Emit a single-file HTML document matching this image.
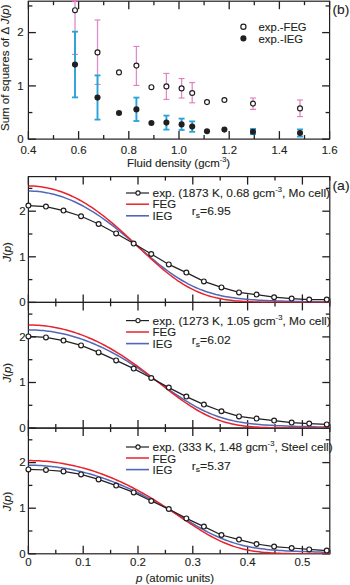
<!DOCTYPE html>
<html><head><meta charset="utf-8"><style>
html,body{margin:0;padding:0;background:#fff;}
svg{display:block;}
text{font-family:"Liberation Sans", sans-serif;fill:#231f20;stroke:#231f20;stroke-width:0.12px;}
</style></head><body>
<svg width="350" height="585" viewBox="0 0 350 585">
<rect width="350" height="585" fill="#fff"/>
<rect x="28.4" y="1.2" width="301.2" height="137.9" fill="none" stroke="#231f20" stroke-width="1.2"/>
<line x1="28.4" y1="139.1" x2="28.4" y2="131.1" stroke="#231f20" stroke-width="1.3" />
<line x1="28.4" y1="1.2" x2="28.4" y2="9.2" stroke="#231f20" stroke-width="1.3" />
<line x1="53.5" y1="139.1" x2="53.5" y2="135.1" stroke="#231f20" stroke-width="1.3" />
<line x1="53.5" y1="1.2" x2="53.5" y2="5.2" stroke="#231f20" stroke-width="1.3" />
<line x1="78.6" y1="139.1" x2="78.6" y2="131.1" stroke="#231f20" stroke-width="1.3" />
<line x1="78.6" y1="1.2" x2="78.6" y2="9.2" stroke="#231f20" stroke-width="1.3" />
<line x1="103.7" y1="139.1" x2="103.7" y2="135.1" stroke="#231f20" stroke-width="1.3" />
<line x1="103.7" y1="1.2" x2="103.7" y2="5.2" stroke="#231f20" stroke-width="1.3" />
<line x1="128.8" y1="139.1" x2="128.8" y2="131.1" stroke="#231f20" stroke-width="1.3" />
<line x1="128.8" y1="1.2" x2="128.8" y2="9.2" stroke="#231f20" stroke-width="1.3" />
<line x1="153.9" y1="139.1" x2="153.9" y2="135.1" stroke="#231f20" stroke-width="1.3" />
<line x1="153.9" y1="1.2" x2="153.9" y2="5.2" stroke="#231f20" stroke-width="1.3" />
<line x1="179" y1="139.1" x2="179" y2="131.1" stroke="#231f20" stroke-width="1.3" />
<line x1="179" y1="1.2" x2="179" y2="9.2" stroke="#231f20" stroke-width="1.3" />
<line x1="204.1" y1="139.1" x2="204.1" y2="135.1" stroke="#231f20" stroke-width="1.3" />
<line x1="204.1" y1="1.2" x2="204.1" y2="5.2" stroke="#231f20" stroke-width="1.3" />
<line x1="229.2" y1="139.1" x2="229.2" y2="131.1" stroke="#231f20" stroke-width="1.3" />
<line x1="229.2" y1="1.2" x2="229.2" y2="9.2" stroke="#231f20" stroke-width="1.3" />
<line x1="254.3" y1="139.1" x2="254.3" y2="135.1" stroke="#231f20" stroke-width="1.3" />
<line x1="254.3" y1="1.2" x2="254.3" y2="5.2" stroke="#231f20" stroke-width="1.3" />
<line x1="279.4" y1="139.1" x2="279.4" y2="131.1" stroke="#231f20" stroke-width="1.3" />
<line x1="279.4" y1="1.2" x2="279.4" y2="9.2" stroke="#231f20" stroke-width="1.3" />
<line x1="304.5" y1="139.1" x2="304.5" y2="135.1" stroke="#231f20" stroke-width="1.3" />
<line x1="304.5" y1="1.2" x2="304.5" y2="5.2" stroke="#231f20" stroke-width="1.3" />
<line x1="329.6" y1="139.1" x2="329.6" y2="131.1" stroke="#231f20" stroke-width="1.3" />
<line x1="329.6" y1="1.2" x2="329.6" y2="9.2" stroke="#231f20" stroke-width="1.3" />
<line x1="28.4" y1="139.2" x2="35.9" y2="139.2" stroke="#231f20" stroke-width="1.3" />
<line x1="329.6" y1="139.2" x2="322.1" y2="139.2" stroke="#231f20" stroke-width="1.3" />
<line x1="28.4" y1="112.55" x2="32.4" y2="112.55" stroke="#231f20" stroke-width="1.3" />
<line x1="329.6" y1="112.55" x2="325.6" y2="112.55" stroke="#231f20" stroke-width="1.3" />
<line x1="28.4" y1="85.9" x2="35.9" y2="85.9" stroke="#231f20" stroke-width="1.3" />
<line x1="329.6" y1="85.9" x2="322.1" y2="85.9" stroke="#231f20" stroke-width="1.3" />
<line x1="28.4" y1="59.25" x2="32.4" y2="59.25" stroke="#231f20" stroke-width="1.3" />
<line x1="329.6" y1="59.25" x2="325.6" y2="59.25" stroke="#231f20" stroke-width="1.3" />
<line x1="28.4" y1="32.6" x2="35.9" y2="32.6" stroke="#231f20" stroke-width="1.3" />
<line x1="329.6" y1="32.6" x2="322.1" y2="32.6" stroke="#231f20" stroke-width="1.3" />
<line x1="28.4" y1="5.95" x2="32.4" y2="5.95" stroke="#231f20" stroke-width="1.3" />
<line x1="329.6" y1="5.95" x2="325.6" y2="5.95" stroke="#231f20" stroke-width="1.3" />
<line x1="75" y1="0.8" x2="75" y2="54.4" stroke="#dc8cc8" stroke-width="1.3" />
<line x1="72" y1="0.8" x2="78" y2="0.8" stroke="#e07ab8" stroke-width="1.1" />
<line x1="72" y1="54.4" x2="78" y2="54.4" stroke="#e07ab8" stroke-width="1.1" />
<line x1="97.5" y1="20" x2="97.5" y2="84.4" stroke="#dc8cc8" stroke-width="1.3" />
<line x1="94.5" y1="20" x2="100.5" y2="20" stroke="#e07ab8" stroke-width="1.1" />
<line x1="94.5" y1="84.4" x2="100.5" y2="84.4" stroke="#e07ab8" stroke-width="1.1" />
<line x1="136.4" y1="46.4" x2="136.4" y2="85.4" stroke="#dc8cc8" stroke-width="1.3" />
<line x1="133.4" y1="46.4" x2="139.4" y2="46.4" stroke="#e07ab8" stroke-width="1.1" />
<line x1="133.4" y1="85.4" x2="139.4" y2="85.4" stroke="#e07ab8" stroke-width="1.1" />
<line x1="166.4" y1="73.4" x2="166.4" y2="99.4" stroke="#dc8cc8" stroke-width="1.3" />
<line x1="163.4" y1="73.4" x2="169.4" y2="73.4" stroke="#e07ab8" stroke-width="1.1" />
<line x1="163.4" y1="99.4" x2="169.4" y2="99.4" stroke="#e07ab8" stroke-width="1.1" />
<line x1="181.6" y1="78.6" x2="181.6" y2="98" stroke="#dc8cc8" stroke-width="1.3" />
<line x1="178.6" y1="78.6" x2="184.6" y2="78.6" stroke="#e07ab8" stroke-width="1.1" />
<line x1="178.6" y1="98" x2="184.6" y2="98" stroke="#e07ab8" stroke-width="1.1" />
<line x1="192.2" y1="82.6" x2="192.2" y2="102.8" stroke="#dc8cc8" stroke-width="1.3" />
<line x1="189.2" y1="82.6" x2="195.2" y2="82.6" stroke="#e07ab8" stroke-width="1.1" />
<line x1="189.2" y1="102.8" x2="195.2" y2="102.8" stroke="#e07ab8" stroke-width="1.1" />
<line x1="253" y1="98" x2="253" y2="109.4" stroke="#dc8cc8" stroke-width="1.3" />
<line x1="250" y1="98" x2="256" y2="98" stroke="#e07ab8" stroke-width="1.1" />
<line x1="250" y1="109.4" x2="256" y2="109.4" stroke="#e07ab8" stroke-width="1.1" />
<line x1="300" y1="100" x2="300" y2="116.6" stroke="#dc8cc8" stroke-width="1.3" />
<line x1="297" y1="100" x2="303" y2="100" stroke="#e07ab8" stroke-width="1.1" />
<line x1="297" y1="116.6" x2="303" y2="116.6" stroke="#e07ab8" stroke-width="1.1" />
<line x1="75" y1="31.7" x2="75" y2="97.4" stroke="#26a3d8" stroke-width="1.9" />
<line x1="72" y1="31.7" x2="78" y2="31.7" stroke="#26a3d8" stroke-width="1.8" />
<line x1="72" y1="97.4" x2="78" y2="97.4" stroke="#26a3d8" stroke-width="1.8" />
<line x1="97.5" y1="75.4" x2="97.5" y2="119.6" stroke="#26a3d8" stroke-width="1.9" />
<line x1="94.5" y1="75.4" x2="100.5" y2="75.4" stroke="#26a3d8" stroke-width="1.8" />
<line x1="94.5" y1="119.6" x2="100.5" y2="119.6" stroke="#26a3d8" stroke-width="1.8" />
<line x1="136.4" y1="97.6" x2="136.4" y2="121" stroke="#26a3d8" stroke-width="1.9" />
<line x1="133.4" y1="97.6" x2="139.4" y2="97.6" stroke="#26a3d8" stroke-width="1.8" />
<line x1="133.4" y1="121" x2="139.4" y2="121" stroke="#26a3d8" stroke-width="1.8" />
<line x1="166.4" y1="115.6" x2="166.4" y2="129.6" stroke="#26a3d8" stroke-width="1.9" />
<line x1="163.4" y1="115.6" x2="169.4" y2="115.6" stroke="#26a3d8" stroke-width="1.8" />
<line x1="163.4" y1="129.6" x2="169.4" y2="129.6" stroke="#26a3d8" stroke-width="1.8" />
<line x1="181.6" y1="118.6" x2="181.6" y2="130" stroke="#26a3d8" stroke-width="1.9" />
<line x1="178.6" y1="118.6" x2="184.6" y2="118.6" stroke="#26a3d8" stroke-width="1.8" />
<line x1="178.6" y1="130" x2="184.6" y2="130" stroke="#26a3d8" stroke-width="1.8" />
<line x1="192.2" y1="121.4" x2="192.2" y2="131.8" stroke="#26a3d8" stroke-width="1.9" />
<line x1="189.2" y1="121.4" x2="195.2" y2="121.4" stroke="#26a3d8" stroke-width="1.8" />
<line x1="189.2" y1="131.8" x2="195.2" y2="131.8" stroke="#26a3d8" stroke-width="1.8" />
<line x1="253" y1="129" x2="253" y2="134.2" stroke="#26a3d8" stroke-width="1.9" />
<line x1="250" y1="129" x2="256" y2="129" stroke="#26a3d8" stroke-width="1.8" />
<line x1="250" y1="134.2" x2="256" y2="134.2" stroke="#26a3d8" stroke-width="1.8" />
<line x1="300" y1="129.4" x2="300" y2="136.6" stroke="#26a3d8" stroke-width="1.9" />
<line x1="297" y1="129.4" x2="303" y2="129.4" stroke="#26a3d8" stroke-width="1.8" />
<line x1="297" y1="136.6" x2="303" y2="136.6" stroke="#26a3d8" stroke-width="1.8" />
<circle cx="75" cy="10.2" r="2.45" fill="#fff" stroke="#231f20" stroke-width="1.2"/>
<circle cx="75" cy="64.6" r="3.05" fill="#231f20"/>
<circle cx="97.5" cy="52.4" r="2.45" fill="#fff" stroke="#231f20" stroke-width="1.2"/>
<circle cx="97.5" cy="97.6" r="3.05" fill="#231f20"/>
<circle cx="119" cy="72.4" r="2.45" fill="#fff" stroke="#231f20" stroke-width="1.2"/>
<circle cx="119" cy="113" r="3.05" fill="#231f20"/>
<circle cx="136.4" cy="65.6" r="2.45" fill="#fff" stroke="#231f20" stroke-width="1.2"/>
<circle cx="136.4" cy="109.4" r="3.05" fill="#231f20"/>
<circle cx="151.4" cy="87.2" r="2.45" fill="#fff" stroke="#231f20" stroke-width="1.2"/>
<circle cx="151.4" cy="123" r="3.05" fill="#231f20"/>
<circle cx="166.4" cy="86.4" r="2.45" fill="#fff" stroke="#231f20" stroke-width="1.2"/>
<circle cx="166.4" cy="122.6" r="3.05" fill="#231f20"/>
<circle cx="181.6" cy="88.4" r="2.45" fill="#fff" stroke="#231f20" stroke-width="1.2"/>
<circle cx="181.6" cy="124.4" r="3.05" fill="#231f20"/>
<circle cx="192.2" cy="93" r="2.45" fill="#fff" stroke="#231f20" stroke-width="1.2"/>
<circle cx="192.2" cy="126.6" r="3.05" fill="#231f20"/>
<circle cx="207" cy="102.1" r="2.45" fill="#fff" stroke="#231f20" stroke-width="1.2"/>
<circle cx="207" cy="131.2" r="3.05" fill="#231f20"/>
<circle cx="224.4" cy="100" r="2.45" fill="#fff" stroke="#231f20" stroke-width="1.2"/>
<circle cx="224.4" cy="129.6" r="3.05" fill="#231f20"/>
<circle cx="253" cy="103.6" r="2.45" fill="#fff" stroke="#231f20" stroke-width="1.2"/>
<circle cx="253" cy="131.8" r="3.05" fill="#231f20"/>
<circle cx="300" cy="108.4" r="2.45" fill="#fff" stroke="#231f20" stroke-width="1.2"/>
<circle cx="300" cy="133" r="3.05" fill="#231f20"/>
<line x1="72" y1="0.8" x2="78" y2="0.8" stroke="#e07ab8" stroke-width="1.3" />
<text transform="translate(23.6,143) scale(1.06,1)" font-size="10.8" text-anchor="end" >0</text>
<text transform="translate(23.6,89.7) scale(1.06,1)" font-size="10.8" text-anchor="end" >1</text>
<text transform="translate(23.6,36.4) scale(1.06,1)" font-size="10.8" text-anchor="end" >2</text>
<text transform="translate(28.4,153.9) scale(1.06,1)" font-size="10.8" text-anchor="middle" >0.4</text>
<text transform="translate(78.6,153.9) scale(1.06,1)" font-size="10.8" text-anchor="middle" >0.6</text>
<text transform="translate(128.8,153.9) scale(1.06,1)" font-size="10.8" text-anchor="middle" >0.8</text>
<text transform="translate(179,153.9) scale(1.06,1)" font-size="10.8" text-anchor="middle" >1.0</text>
<text transform="translate(229.2,153.9) scale(1.06,1)" font-size="10.8" text-anchor="middle" >1.2</text>
<text transform="translate(279.4,153.9) scale(1.06,1)" font-size="10.8" text-anchor="middle" >1.4</text>
<text transform="translate(329.6,153.9) scale(1.06,1)" font-size="10.8" text-anchor="middle" >1.6</text>
<text transform="translate(127,167) scale(1.06,1)" font-size="10.8" >Fluid density (gcm<tspan dy="-5.2" font-size="7">-3</tspan><tspan dy="5.2">)</tspan></text>
<text transform="translate(8.7,131.0) rotate(-90)" font-size="11.5" textLength="126.5" lengthAdjust="spacingAndGlyphs">Sum of squares of Δ <tspan font-style="italic">J</tspan>(<tspan font-style="italic">p</tspan>)</text>
<text transform="translate(332.4,13.9) scale(1.02,1)" font-size="13.5" text-anchor="start" >(b)</text>
<circle cx="243.4" cy="26.7" r="2.6" fill="#fff" stroke="#231f20" stroke-width="1.2"/>
<circle cx="243.4" cy="38.4" r="3.05" fill="#231f20"/>
<text transform="translate(258.6,31.4) scale(1.06,1)" font-size="10.8" text-anchor="start" textLength="45.28" lengthAdjust="spacingAndGlyphs" >exp.-FEG</text>
<text transform="translate(258.6,43.3) scale(1.06,1)" font-size="10.8" text-anchor="start" textLength="41.98" lengthAdjust="spacingAndGlyphs" >exp.-IEG</text>
<rect x="28.4" y="176.6" width="301.4" height="125.8" fill="none" stroke="#231f20" stroke-width="1.2"/>
<line x1="28.4" y1="176.6" x2="28.4" y2="184.6" stroke="#231f20" stroke-width="1.3" />
<line x1="28.4" y1="302.4" x2="28.4" y2="294.4" stroke="#231f20" stroke-width="1.3" />
<line x1="28.4" y1="302.4" x2="28.4" y2="310.4" stroke="#231f20" stroke-width="1.3" />
<line x1="55.8" y1="176.6" x2="55.8" y2="180.6" stroke="#231f20" stroke-width="1.3" />
<line x1="55.8" y1="302.4" x2="55.8" y2="298.4" stroke="#231f20" stroke-width="1.3" />
<line x1="55.8" y1="302.4" x2="55.8" y2="306.4" stroke="#231f20" stroke-width="1.3" />
<line x1="83.2" y1="176.6" x2="83.2" y2="184.6" stroke="#231f20" stroke-width="1.3" />
<line x1="83.2" y1="302.4" x2="83.2" y2="294.4" stroke="#231f20" stroke-width="1.3" />
<line x1="83.2" y1="302.4" x2="83.2" y2="310.4" stroke="#231f20" stroke-width="1.3" />
<line x1="110.6" y1="176.6" x2="110.6" y2="180.6" stroke="#231f20" stroke-width="1.3" />
<line x1="110.6" y1="302.4" x2="110.6" y2="298.4" stroke="#231f20" stroke-width="1.3" />
<line x1="110.6" y1="302.4" x2="110.6" y2="306.4" stroke="#231f20" stroke-width="1.3" />
<line x1="138" y1="176.6" x2="138" y2="184.6" stroke="#231f20" stroke-width="1.3" />
<line x1="138" y1="302.4" x2="138" y2="294.4" stroke="#231f20" stroke-width="1.3" />
<line x1="138" y1="302.4" x2="138" y2="310.4" stroke="#231f20" stroke-width="1.3" />
<line x1="165.4" y1="176.6" x2="165.4" y2="180.6" stroke="#231f20" stroke-width="1.3" />
<line x1="165.4" y1="302.4" x2="165.4" y2="298.4" stroke="#231f20" stroke-width="1.3" />
<line x1="165.4" y1="302.4" x2="165.4" y2="306.4" stroke="#231f20" stroke-width="1.3" />
<line x1="192.8" y1="176.6" x2="192.8" y2="184.6" stroke="#231f20" stroke-width="1.3" />
<line x1="192.8" y1="302.4" x2="192.8" y2="294.4" stroke="#231f20" stroke-width="1.3" />
<line x1="192.8" y1="302.4" x2="192.8" y2="310.4" stroke="#231f20" stroke-width="1.3" />
<line x1="220.2" y1="176.6" x2="220.2" y2="180.6" stroke="#231f20" stroke-width="1.3" />
<line x1="220.2" y1="302.4" x2="220.2" y2="298.4" stroke="#231f20" stroke-width="1.3" />
<line x1="220.2" y1="302.4" x2="220.2" y2="306.4" stroke="#231f20" stroke-width="1.3" />
<line x1="247.6" y1="176.6" x2="247.6" y2="184.6" stroke="#231f20" stroke-width="1.3" />
<line x1="247.6" y1="302.4" x2="247.6" y2="294.4" stroke="#231f20" stroke-width="1.3" />
<line x1="247.6" y1="302.4" x2="247.6" y2="310.4" stroke="#231f20" stroke-width="1.3" />
<line x1="275" y1="176.6" x2="275" y2="180.6" stroke="#231f20" stroke-width="1.3" />
<line x1="275" y1="302.4" x2="275" y2="298.4" stroke="#231f20" stroke-width="1.3" />
<line x1="275" y1="302.4" x2="275" y2="306.4" stroke="#231f20" stroke-width="1.3" />
<line x1="302.4" y1="176.6" x2="302.4" y2="184.6" stroke="#231f20" stroke-width="1.3" />
<line x1="302.4" y1="302.4" x2="302.4" y2="294.4" stroke="#231f20" stroke-width="1.3" />
<line x1="302.4" y1="302.4" x2="302.4" y2="310.4" stroke="#231f20" stroke-width="1.3" />
<line x1="329.8" y1="176.6" x2="329.8" y2="180.6" stroke="#231f20" stroke-width="1.3" />
<line x1="329.8" y1="302.4" x2="329.8" y2="298.4" stroke="#231f20" stroke-width="1.3" />
<line x1="329.8" y1="302.4" x2="329.8" y2="306.4" stroke="#231f20" stroke-width="1.3" />
<line x1="28.4" y1="302.4" x2="35.9" y2="302.4" stroke="#231f20" stroke-width="1.3" />
<line x1="329.8" y1="302.4" x2="322.3" y2="302.4" stroke="#231f20" stroke-width="1.3" />
<line x1="28.4" y1="279.6" x2="32.4" y2="279.6" stroke="#231f20" stroke-width="1.3" />
<line x1="329.8" y1="279.6" x2="325.8" y2="279.6" stroke="#231f20" stroke-width="1.3" />
<line x1="28.4" y1="256.8" x2="35.9" y2="256.8" stroke="#231f20" stroke-width="1.3" />
<line x1="329.8" y1="256.8" x2="322.3" y2="256.8" stroke="#231f20" stroke-width="1.3" />
<line x1="28.4" y1="234" x2="32.4" y2="234" stroke="#231f20" stroke-width="1.3" />
<line x1="329.8" y1="234" x2="325.8" y2="234" stroke="#231f20" stroke-width="1.3" />
<line x1="28.4" y1="211.2" x2="35.9" y2="211.2" stroke="#231f20" stroke-width="1.3" />
<line x1="329.8" y1="211.2" x2="322.3" y2="211.2" stroke="#231f20" stroke-width="1.3" />
<line x1="28.4" y1="188.4" x2="32.4" y2="188.4" stroke="#231f20" stroke-width="1.3" />
<line x1="329.8" y1="188.4" x2="325.8" y2="188.4" stroke="#231f20" stroke-width="1.3" />
<rect x="28.4" y="302.4" width="301.4" height="125.7" fill="none" stroke="#231f20" stroke-width="1.2"/>
<line x1="28.4" y1="428.1" x2="28.4" y2="420.1" stroke="#231f20" stroke-width="1.3" />
<line x1="28.4" y1="428.1" x2="28.4" y2="436.1" stroke="#231f20" stroke-width="1.3" />
<line x1="55.8" y1="428.1" x2="55.8" y2="424.1" stroke="#231f20" stroke-width="1.3" />
<line x1="55.8" y1="428.1" x2="55.8" y2="432.1" stroke="#231f20" stroke-width="1.3" />
<line x1="83.2" y1="428.1" x2="83.2" y2="420.1" stroke="#231f20" stroke-width="1.3" />
<line x1="83.2" y1="428.1" x2="83.2" y2="436.1" stroke="#231f20" stroke-width="1.3" />
<line x1="110.6" y1="428.1" x2="110.6" y2="424.1" stroke="#231f20" stroke-width="1.3" />
<line x1="110.6" y1="428.1" x2="110.6" y2="432.1" stroke="#231f20" stroke-width="1.3" />
<line x1="138" y1="428.1" x2="138" y2="420.1" stroke="#231f20" stroke-width="1.3" />
<line x1="138" y1="428.1" x2="138" y2="436.1" stroke="#231f20" stroke-width="1.3" />
<line x1="165.4" y1="428.1" x2="165.4" y2="424.1" stroke="#231f20" stroke-width="1.3" />
<line x1="165.4" y1="428.1" x2="165.4" y2="432.1" stroke="#231f20" stroke-width="1.3" />
<line x1="192.8" y1="428.1" x2="192.8" y2="420.1" stroke="#231f20" stroke-width="1.3" />
<line x1="192.8" y1="428.1" x2="192.8" y2="436.1" stroke="#231f20" stroke-width="1.3" />
<line x1="220.2" y1="428.1" x2="220.2" y2="424.1" stroke="#231f20" stroke-width="1.3" />
<line x1="220.2" y1="428.1" x2="220.2" y2="432.1" stroke="#231f20" stroke-width="1.3" />
<line x1="247.6" y1="428.1" x2="247.6" y2="420.1" stroke="#231f20" stroke-width="1.3" />
<line x1="247.6" y1="428.1" x2="247.6" y2="436.1" stroke="#231f20" stroke-width="1.3" />
<line x1="275" y1="428.1" x2="275" y2="424.1" stroke="#231f20" stroke-width="1.3" />
<line x1="275" y1="428.1" x2="275" y2="432.1" stroke="#231f20" stroke-width="1.3" />
<line x1="302.4" y1="428.1" x2="302.4" y2="420.1" stroke="#231f20" stroke-width="1.3" />
<line x1="302.4" y1="428.1" x2="302.4" y2="436.1" stroke="#231f20" stroke-width="1.3" />
<line x1="329.8" y1="428.1" x2="329.8" y2="424.1" stroke="#231f20" stroke-width="1.3" />
<line x1="329.8" y1="428.1" x2="329.8" y2="432.1" stroke="#231f20" stroke-width="1.3" />
<line x1="28.4" y1="428.1" x2="35.9" y2="428.1" stroke="#231f20" stroke-width="1.3" />
<line x1="329.8" y1="428.1" x2="322.3" y2="428.1" stroke="#231f20" stroke-width="1.3" />
<line x1="28.4" y1="405.3" x2="32.4" y2="405.3" stroke="#231f20" stroke-width="1.3" />
<line x1="329.8" y1="405.3" x2="325.8" y2="405.3" stroke="#231f20" stroke-width="1.3" />
<line x1="28.4" y1="382.5" x2="35.9" y2="382.5" stroke="#231f20" stroke-width="1.3" />
<line x1="329.8" y1="382.5" x2="322.3" y2="382.5" stroke="#231f20" stroke-width="1.3" />
<line x1="28.4" y1="359.7" x2="32.4" y2="359.7" stroke="#231f20" stroke-width="1.3" />
<line x1="329.8" y1="359.7" x2="325.8" y2="359.7" stroke="#231f20" stroke-width="1.3" />
<line x1="28.4" y1="336.9" x2="35.9" y2="336.9" stroke="#231f20" stroke-width="1.3" />
<line x1="329.8" y1="336.9" x2="322.3" y2="336.9" stroke="#231f20" stroke-width="1.3" />
<line x1="28.4" y1="314.1" x2="32.4" y2="314.1" stroke="#231f20" stroke-width="1.3" />
<line x1="329.8" y1="314.1" x2="325.8" y2="314.1" stroke="#231f20" stroke-width="1.3" />
<rect x="28.4" y="428.1" width="301.4" height="125.7" fill="none" stroke="#231f20" stroke-width="1.2"/>
<line x1="28.4" y1="553.8" x2="28.4" y2="545.8" stroke="#231f20" stroke-width="1.3" />
<line x1="55.8" y1="553.8" x2="55.8" y2="549.8" stroke="#231f20" stroke-width="1.3" />
<line x1="83.2" y1="553.8" x2="83.2" y2="545.8" stroke="#231f20" stroke-width="1.3" />
<line x1="110.6" y1="553.8" x2="110.6" y2="549.8" stroke="#231f20" stroke-width="1.3" />
<line x1="138" y1="553.8" x2="138" y2="545.8" stroke="#231f20" stroke-width="1.3" />
<line x1="165.4" y1="553.8" x2="165.4" y2="549.8" stroke="#231f20" stroke-width="1.3" />
<line x1="192.8" y1="553.8" x2="192.8" y2="545.8" stroke="#231f20" stroke-width="1.3" />
<line x1="220.2" y1="553.8" x2="220.2" y2="549.8" stroke="#231f20" stroke-width="1.3" />
<line x1="247.6" y1="553.8" x2="247.6" y2="545.8" stroke="#231f20" stroke-width="1.3" />
<line x1="275" y1="553.8" x2="275" y2="549.8" stroke="#231f20" stroke-width="1.3" />
<line x1="302.4" y1="553.8" x2="302.4" y2="545.8" stroke="#231f20" stroke-width="1.3" />
<line x1="329.8" y1="553.8" x2="329.8" y2="549.8" stroke="#231f20" stroke-width="1.3" />
<line x1="28.4" y1="553.8" x2="35.9" y2="553.8" stroke="#231f20" stroke-width="1.3" />
<line x1="329.8" y1="553.8" x2="322.3" y2="553.8" stroke="#231f20" stroke-width="1.3" />
<line x1="28.4" y1="531" x2="32.4" y2="531" stroke="#231f20" stroke-width="1.3" />
<line x1="329.8" y1="531" x2="325.8" y2="531" stroke="#231f20" stroke-width="1.3" />
<line x1="28.4" y1="508.2" x2="35.9" y2="508.2" stroke="#231f20" stroke-width="1.3" />
<line x1="329.8" y1="508.2" x2="322.3" y2="508.2" stroke="#231f20" stroke-width="1.3" />
<line x1="28.4" y1="485.4" x2="32.4" y2="485.4" stroke="#231f20" stroke-width="1.3" />
<line x1="329.8" y1="485.4" x2="325.8" y2="485.4" stroke="#231f20" stroke-width="1.3" />
<line x1="28.4" y1="462.6" x2="35.9" y2="462.6" stroke="#231f20" stroke-width="1.3" />
<line x1="329.8" y1="462.6" x2="322.3" y2="462.6" stroke="#231f20" stroke-width="1.3" />
<line x1="28.4" y1="439.8" x2="32.4" y2="439.8" stroke="#231f20" stroke-width="1.3" />
<line x1="329.8" y1="439.8" x2="325.8" y2="439.8" stroke="#231f20" stroke-width="1.3" />
<clipPath id="c0"><rect x="28.4" y="176.6" width="301.4" height="125.8"/></clipPath>
<path d="M28.4,191.04 L30.93,191.07 L33.47,191.17 L36,191.33 L38.54,191.56 L41.07,191.86 L43.61,192.21 L46.14,192.64 L48.68,193.13 L51.21,193.68 L53.75,194.3 L56.28,194.98 L58.82,195.72 L61.35,196.53 L63.88,197.41 L66.42,198.34 L68.95,199.34 L71.49,200.4 L74.02,201.53 L76.56,202.71 L79.09,203.96 L81.63,205.26 L84.16,206.63 L86.7,208.05 L89.23,209.53 L91.77,211.07 L94.3,212.66 L96.83,214.3 L99.37,216 L101.9,217.75 L104.44,219.55 L106.97,221.4 L109.51,223.29 L112.04,225.22 L114.58,227.19 L117.11,229.2 L119.65,231.24 L122.18,233.31 L124.72,235.41 L127.25,237.54 L129.78,239.68 L132.32,241.84 L134.85,244.01 L137.39,246.18 L139.92,248.36 L142.46,250.53 L144.99,252.69 L147.53,254.85 L150.06,256.98 L152.6,259.09 L155.13,261.17 L157.67,263.22 L160.2,265.23 L162.73,267.2 L165.27,269.12 L167.8,271 L170.34,272.81 L172.87,274.57 L175.41,276.28 L177.94,277.91 L180.48,279.49 L183.01,280.99 L185.55,282.43 L188.08,283.8 L190.62,285.1 L193.15,286.33 L195.68,287.49 L198.22,288.59 L200.75,289.61 L203.29,290.57 L205.82,291.47 L208.36,292.31 L210.89,293.08 L213.43,293.8 L215.96,294.47 L218.5,295.08 L221.03,295.65 L223.57,296.17 L226.1,296.64 L228.63,297.08 L231.17,297.48 L233.7,297.85 L236.24,298.18 L238.77,298.49 L241.31,298.77 L243.84,299.02 L246.38,299.26 L248.91,299.47 L251.45,299.66 L253.98,299.84 L256.52,300.01 L259.05,300.16 L261.58,300.3 L264.12,300.43 L266.65,300.55 L269.19,300.66 L271.72,300.76 L274.26,300.85 L276.79,300.94 L279.33,301.03 L281.86,301.11 L284.4,301.18 L286.93,301.25 L289.47,301.31 L292,301.38 L294.53,301.43 L297.07,301.49 L299.6,301.54 L302.14,301.59 L304.67,301.64 L307.21,301.68 L309.74,301.72 L312.28,301.76 L314.81,301.8 L317.35,301.84 L319.88,301.87 L322.42,301.9 L324.95,301.93 L327.48,301.96 L330.02,301.99" fill="none" stroke="#5068b6" stroke-width="1.5" clip-path="url(#c0)"/>
<path d="M28.4,185.94 L30.93,185.97 L33.47,186.08 L36,186.25 L38.54,186.5 L41.07,186.81 L43.61,187.19 L46.14,187.64 L48.68,188.16 L51.21,188.75 L53.75,189.41 L56.28,190.14 L58.82,190.94 L61.35,191.8 L63.88,192.74 L66.42,193.74 L68.95,194.81 L71.49,195.95 L74.02,197.16 L76.56,198.44 L79.09,199.78 L81.63,201.19 L84.16,202.66 L86.7,204.2 L89.23,205.81 L91.77,207.47 L94.3,209.2 L96.83,210.99 L99.37,212.84 L101.9,214.75 L104.44,216.71 L106.97,218.73 L109.51,220.8 L112.04,222.92 L114.58,225.08 L117.11,227.29 L119.65,229.53 L122.18,231.81 L124.72,234.12 L127.25,236.46 L129.78,238.82 L132.32,241.2 L134.85,243.6 L137.39,246 L139.92,248.4 L142.46,250.79 L144.99,253.18 L147.53,255.55 L150.06,257.9 L152.6,260.23 L155.13,262.52 L157.67,264.77 L160.2,266.97 L162.73,269.13 L165.27,271.23 L167.8,273.27 L170.34,275.25 L172.87,277.16 L175.41,278.99 L177.94,280.76 L180.48,282.44 L183.01,284.05 L185.55,285.57 L188.08,287.02 L190.62,288.38 L193.15,289.66 L195.68,290.86 L198.22,291.98 L200.75,293.02 L203.29,293.98 L205.82,294.87 L208.36,295.69 L210.89,296.44 L213.43,297.12 L215.96,297.74 L218.5,298.3 L221.03,298.81 L223.57,299.27 L226.1,299.67 L228.63,300.04 L231.17,300.36 L233.7,300.64 L236.24,300.89 L238.77,301.11 L241.31,301.3 L243.84,301.47 L246.38,301.62 L248.91,301.74 L251.45,301.85 L253.98,301.94 L256.52,302.02 L259.05,302.08 L261.58,302.14 L264.12,302.18 L266.65,302.22 L269.19,302.26 L271.72,302.28 L274.26,302.31 L276.79,302.32 L279.33,302.34 L281.86,302.35 L284.4,302.36 L286.93,302.37 L289.47,302.38 L292,302.38 L294.53,302.39 L297.07,302.39 L299.6,302.39 L302.14,302.39 L304.67,302.39 L307.21,302.4 L309.74,302.4 L312.28,302.4 L314.81,302.4 L317.35,302.4 L319.88,302.4 L322.42,302.4 L324.95,302.4 L327.48,302.4 L330.02,302.4" fill="none" stroke="#e8232c" stroke-width="1.5" clip-path="url(#c0)"/>
<polyline points="28.4,205.6 45.95,206.6 63.5,210.6 81.05,216.2 98.6,224 116.15,233.4 133.7,243.6 151.25,254 168.8,264.4 186.35,272.6 203.9,281.4 221.45,287.4 239,292.4 256.55,294.6 274.1,297.2 291.65,298.6 309.2,299.6 326.75,299.6" fill="none" stroke="#231f20" stroke-width="1.2"/>
<circle cx="28.4" cy="205.6" r="2.4" fill="#fff" stroke="#231f20" stroke-width="1.2"/>
<circle cx="45.95" cy="206.6" r="2.4" fill="#fff" stroke="#231f20" stroke-width="1.2"/>
<circle cx="63.5" cy="210.6" r="2.4" fill="#fff" stroke="#231f20" stroke-width="1.2"/>
<circle cx="81.05" cy="216.2" r="2.4" fill="#fff" stroke="#231f20" stroke-width="1.2"/>
<circle cx="98.6" cy="224" r="2.4" fill="#fff" stroke="#231f20" stroke-width="1.2"/>
<circle cx="116.15" cy="233.4" r="2.4" fill="#fff" stroke="#231f20" stroke-width="1.2"/>
<circle cx="133.7" cy="243.6" r="2.4" fill="#fff" stroke="#231f20" stroke-width="1.2"/>
<circle cx="151.25" cy="254" r="2.4" fill="#fff" stroke="#231f20" stroke-width="1.2"/>
<circle cx="168.8" cy="264.4" r="2.4" fill="#fff" stroke="#231f20" stroke-width="1.2"/>
<circle cx="186.35" cy="272.6" r="2.4" fill="#fff" stroke="#231f20" stroke-width="1.2"/>
<circle cx="203.9" cy="281.4" r="2.4" fill="#fff" stroke="#231f20" stroke-width="1.2"/>
<circle cx="221.45" cy="287.4" r="2.4" fill="#fff" stroke="#231f20" stroke-width="1.2"/>
<circle cx="239" cy="292.4" r="2.4" fill="#fff" stroke="#231f20" stroke-width="1.2"/>
<circle cx="256.55" cy="294.6" r="2.4" fill="#fff" stroke="#231f20" stroke-width="1.2"/>
<circle cx="274.1" cy="297.2" r="2.4" fill="#fff" stroke="#231f20" stroke-width="1.2"/>
<circle cx="291.65" cy="298.6" r="2.4" fill="#fff" stroke="#231f20" stroke-width="1.2"/>
<circle cx="309.2" cy="299.6" r="2.4" fill="#fff" stroke="#231f20" stroke-width="1.2"/>
<circle cx="326.75" cy="299.6" r="2.4" fill="#fff" stroke="#231f20" stroke-width="1.2"/>
<line x1="126" y1="193" x2="149" y2="193" stroke="#231f20" stroke-width="1.2" />
<circle cx="138" cy="193" r="2.1" fill="#fff" stroke="#231f20" stroke-width="1.1"/>
<line x1="126" y1="204.2" x2="149" y2="204.2" stroke="#e8232c" stroke-width="1.5" />
<line x1="126" y1="215.8" x2="149" y2="215.8" stroke="#5068b6" stroke-width="1.6" />
<text transform="translate(152.6,196.8) scale(1.099,1)" font-size="10.8" >exp. (1873 K, 0.68 gcm<tspan dy="-5.2" font-size="7">-3</tspan><tspan dy="5.2">, Mo cell)</tspan></text>
<text transform="translate(152.6,208.3) scale(1.06,1)" font-size="10.8" text-anchor="start" >FEG</text>
<text transform="translate(152.6,220.2) scale(1.06,1)" font-size="10.8" text-anchor="start" >IEG</text>
<text transform="translate(191.8,215) scale(1.06,1)" font-size="11.4" >r<tspan dy="2.6" font-size="8">s</tspan><tspan dy="-2.6">=6.95</tspan></text>
<text transform="translate(10.8,261.8) rotate(-90) scale(1.06,1)" font-size="10.8"><tspan font-style="italic">J</tspan>(<tspan font-style="italic">p</tspan>)</text>
<text transform="translate(25.6,306.2) scale(1.06,1)" font-size="10.8" text-anchor="end" >0</text>
<text transform="translate(25.6,260.6) scale(1.06,1)" font-size="10.8" text-anchor="end" >1</text>
<text transform="translate(25.6,215) scale(1.06,1)" font-size="10.8" text-anchor="end" >2</text>
<clipPath id="c1"><rect x="28.4" y="302.4" width="301.4" height="125.7"/></clipPath>
<path d="M28.4,329.86 L30.93,329.88 L33.47,329.95 L36,330.05 L38.54,330.2 L41.07,330.39 L43.61,330.62 L46.14,330.89 L48.68,331.21 L51.21,331.57 L53.75,331.97 L56.28,332.41 L58.82,332.89 L61.35,333.41 L63.88,333.98 L66.42,334.59 L68.95,335.24 L71.49,335.93 L74.02,336.66 L76.56,337.43 L79.09,338.25 L81.63,339.1 L84.16,340 L86.7,340.93 L89.23,341.91 L91.77,342.93 L94.3,343.99 L96.83,345.08 L99.37,346.22 L101.9,347.4 L104.44,348.61 L106.97,349.86 L109.51,351.16 L112.04,352.49 L114.58,353.85 L117.11,355.26 L119.65,356.7 L122.18,358.17 L124.72,359.68 L127.25,361.22 L129.78,362.79 L132.32,364.39 L134.85,366.03 L137.39,367.68 L139.92,369.37 L142.46,371.08 L144.99,372.8 L147.53,374.55 L150.06,376.31 L152.6,378.09 L155.13,379.87 L157.67,381.66 L160.2,383.45 L162.73,385.24 L165.27,387.03 L167.8,388.8 L170.34,390.56 L172.87,392.31 L175.41,394.03 L177.94,395.73 L180.48,397.4 L183.01,399.03 L185.55,400.63 L188.08,402.19 L190.62,403.7 L193.15,405.16 L195.68,406.57 L198.22,407.93 L200.75,409.23 L203.29,410.48 L205.82,411.67 L208.36,412.79 L210.89,413.86 L213.43,414.87 L215.96,415.82 L218.5,416.71 L221.03,417.54 L223.57,418.31 L226.1,419.03 L228.63,419.7 L231.17,420.32 L233.7,420.88 L236.24,421.41 L238.77,421.88 L241.31,422.32 L243.84,422.72 L246.38,423.09 L248.91,423.42 L251.45,423.73 L253.98,424 L256.52,424.25 L259.05,424.48 L261.58,424.69 L264.12,424.88 L266.65,425.06 L269.19,425.22 L271.72,425.37 L274.26,425.5 L276.79,425.63 L279.33,425.74 L281.86,425.85 L284.4,425.95 L286.93,426.05 L289.47,426.14 L292,426.22 L294.53,426.3 L297.07,426.38 L299.6,426.45 L302.14,426.52 L304.67,426.58 L307.21,426.65 L309.74,426.71 L312.28,426.77 L314.81,426.82 L317.35,426.88 L319.88,426.93 L322.42,426.98 L324.95,427.02 L327.48,427.07 L330.02,427.12" fill="none" stroke="#5068b6" stroke-width="1.5" clip-path="url(#c1)"/>
<path d="M28.4,324.94 L30.93,324.96 L33.47,325.03 L36,325.14 L38.54,325.3 L41.07,325.5 L43.61,325.75 L46.14,326.04 L48.68,326.38 L51.21,326.77 L53.75,327.2 L56.28,327.67 L58.82,328.19 L61.35,328.75 L63.88,329.36 L66.42,330.02 L68.95,330.72 L71.49,331.46 L74.02,332.25 L76.56,333.09 L79.09,333.97 L81.63,334.9 L84.16,335.87 L86.7,336.88 L89.23,337.94 L91.77,339.05 L94.3,340.2 L96.83,341.39 L99.37,342.63 L101.9,343.91 L104.44,345.24 L106.97,346.61 L109.51,348.02 L112.04,349.48 L114.58,350.98 L117.11,352.52 L119.65,354.1 L122.18,355.72 L124.72,357.38 L127.25,359.08 L129.78,360.82 L132.32,362.59 L134.85,364.39 L137.39,366.23 L139.92,368.09 L142.46,369.98 L144.99,371.9 L147.53,373.83 L150.06,375.79 L152.6,377.76 L155.13,379.74 L157.67,381.73 L160.2,383.72 L162.73,385.71 L165.27,387.69 L167.8,389.66 L170.34,391.62 L172.87,393.55 L175.41,395.46 L177.94,397.34 L180.48,399.19 L183.01,400.99 L185.55,402.75 L188.08,404.46 L190.62,406.12 L193.15,407.72 L195.68,409.26 L198.22,410.73 L200.75,412.14 L203.29,413.48 L205.82,414.76 L208.36,415.96 L210.89,417.09 L213.43,418.15 L215.96,419.14 L218.5,420.06 L221.03,420.91 L223.57,421.7 L226.1,422.42 L228.63,423.08 L231.17,423.68 L233.7,424.22 L236.24,424.71 L238.77,425.15 L241.31,425.54 L243.84,425.89 L246.38,426.2 L248.91,426.48 L251.45,426.72 L253.98,426.92 L256.52,427.11 L259.05,427.26 L261.58,427.4 L264.12,427.52 L266.65,427.62 L269.19,427.7 L271.72,427.77 L274.26,427.83 L276.79,427.88 L279.33,427.92 L281.86,427.96 L284.4,427.98 L286.93,428.01 L289.47,428.03 L292,428.04 L294.53,428.05 L297.07,428.06 L299.6,428.07 L302.14,428.08 L304.67,428.08 L307.21,428.09 L309.74,428.09 L312.28,428.09 L314.81,428.09 L317.35,428.1 L319.88,428.1 L322.42,428.1 L324.95,428.1 L327.48,428.1 L330.02,428.1" fill="none" stroke="#e8232c" stroke-width="1.5" clip-path="url(#c1)"/>
<polyline points="28.4,336.4 45.95,337.4 63.5,340.6 81.05,345.4 98.6,352.4 116.15,360.4 133.7,368.6 151.25,378 168.8,387.6 186.35,396.6 203.9,404.6 221.45,411.2 239,416.4 256.55,418.6 274.1,420.6 291.65,422.6 309.2,423.6 326.75,424.4" fill="none" stroke="#231f20" stroke-width="1.2"/>
<circle cx="28.4" cy="336.4" r="2.4" fill="#fff" stroke="#231f20" stroke-width="1.2"/>
<circle cx="45.95" cy="337.4" r="2.4" fill="#fff" stroke="#231f20" stroke-width="1.2"/>
<circle cx="63.5" cy="340.6" r="2.4" fill="#fff" stroke="#231f20" stroke-width="1.2"/>
<circle cx="81.05" cy="345.4" r="2.4" fill="#fff" stroke="#231f20" stroke-width="1.2"/>
<circle cx="98.6" cy="352.4" r="2.4" fill="#fff" stroke="#231f20" stroke-width="1.2"/>
<circle cx="116.15" cy="360.4" r="2.4" fill="#fff" stroke="#231f20" stroke-width="1.2"/>
<circle cx="133.7" cy="368.6" r="2.4" fill="#fff" stroke="#231f20" stroke-width="1.2"/>
<circle cx="151.25" cy="378" r="2.4" fill="#fff" stroke="#231f20" stroke-width="1.2"/>
<circle cx="168.8" cy="387.6" r="2.4" fill="#fff" stroke="#231f20" stroke-width="1.2"/>
<circle cx="186.35" cy="396.6" r="2.4" fill="#fff" stroke="#231f20" stroke-width="1.2"/>
<circle cx="203.9" cy="404.6" r="2.4" fill="#fff" stroke="#231f20" stroke-width="1.2"/>
<circle cx="221.45" cy="411.2" r="2.4" fill="#fff" stroke="#231f20" stroke-width="1.2"/>
<circle cx="239" cy="416.4" r="2.4" fill="#fff" stroke="#231f20" stroke-width="1.2"/>
<circle cx="256.55" cy="418.6" r="2.4" fill="#fff" stroke="#231f20" stroke-width="1.2"/>
<circle cx="274.1" cy="420.6" r="2.4" fill="#fff" stroke="#231f20" stroke-width="1.2"/>
<circle cx="291.65" cy="422.6" r="2.4" fill="#fff" stroke="#231f20" stroke-width="1.2"/>
<circle cx="309.2" cy="423.6" r="2.4" fill="#fff" stroke="#231f20" stroke-width="1.2"/>
<circle cx="326.75" cy="424.4" r="2.4" fill="#fff" stroke="#231f20" stroke-width="1.2"/>
<line x1="126" y1="320.6" x2="149" y2="320.6" stroke="#231f20" stroke-width="1.2" />
<circle cx="138" cy="320.6" r="2.1" fill="#fff" stroke="#231f20" stroke-width="1.1"/>
<line x1="126" y1="332" x2="149" y2="332" stroke="#e8232c" stroke-width="1.5" />
<line x1="126" y1="343.6" x2="149" y2="343.6" stroke="#5068b6" stroke-width="1.6" />
<text transform="translate(152.6,325) scale(1.102,1)" font-size="10.8" >exp. (1273 K, 1.05 gcm<tspan dy="-5.2" font-size="7">-3</tspan><tspan dy="5.2">, Mo cell)</tspan></text>
<text transform="translate(152.6,336.3) scale(1.06,1)" font-size="10.8" text-anchor="start" >FEG</text>
<text transform="translate(152.6,347.9) scale(1.06,1)" font-size="10.8" text-anchor="start" >IEG</text>
<text transform="translate(191.8,344) scale(1.06,1)" font-size="11.4" >r<tspan dy="2.6" font-size="8">s</tspan><tspan dy="-2.6">=6.02</tspan></text>
<text transform="translate(10.8,382.6) rotate(-90) scale(1.06,1)" font-size="10.8"><tspan font-style="italic">J</tspan>(<tspan font-style="italic">p</tspan>)</text>
<text transform="translate(25.6,431.9) scale(1.06,1)" font-size="10.8" text-anchor="end" >0</text>
<text transform="translate(25.6,386.3) scale(1.06,1)" font-size="10.8" text-anchor="end" >1</text>
<text transform="translate(25.6,340.7) scale(1.06,1)" font-size="10.8" text-anchor="end" >2</text>
<clipPath id="c2"><rect x="28.4" y="428.1" width="301.4" height="125.7"/></clipPath>
<path d="M28.4,465.23 L30.93,465.24 L33.47,465.29 L36,465.36 L38.54,465.47 L41.07,465.6 L43.61,465.77 L46.14,465.96 L48.68,466.19 L51.21,466.44 L53.75,466.73 L56.28,467.04 L58.82,467.39 L61.35,467.76 L63.88,468.17 L66.42,468.6 L68.95,469.07 L71.49,469.56 L74.02,470.08 L76.56,470.63 L79.09,471.21 L81.63,471.83 L84.16,472.47 L86.7,473.13 L89.23,473.83 L91.77,474.56 L94.3,475.32 L96.83,476.1 L99.37,476.91 L101.9,477.76 L104.44,478.63 L106.97,479.52 L109.51,480.45 L112.04,481.41 L114.58,482.39 L117.11,483.4 L119.65,484.44 L122.18,485.51 L124.72,486.6 L127.25,487.72 L129.78,488.87 L132.32,490.04 L134.85,491.24 L137.39,492.47 L139.92,493.72 L142.46,495 L144.99,496.3 L147.53,497.62 L150.06,498.97 L152.6,500.34 L155.13,501.73 L157.67,503.14 L160.2,504.58 L162.73,506.02 L165.27,507.49 L167.8,508.97 L170.34,510.46 L172.87,511.96 L175.41,513.46 L177.94,514.97 L180.48,516.49 L183.01,518 L185.55,519.51 L188.08,521.01 L190.62,522.5 L193.15,523.98 L195.68,525.43 L198.22,526.87 L200.75,528.28 L203.29,529.66 L205.82,531 L208.36,532.31 L210.89,533.58 L213.43,534.81 L215.96,536 L218.5,537.13 L221.03,538.22 L223.57,539.26 L226.1,540.24 L228.63,541.17 L231.17,542.05 L233.7,542.88 L236.24,543.65 L238.77,544.37 L241.31,545.04 L243.84,545.66 L246.38,546.23 L248.91,546.76 L251.45,547.25 L253.98,547.69 L256.52,548.1 L259.05,548.47 L261.58,548.81 L264.12,549.11 L266.65,549.39 L269.19,549.65 L271.72,549.88 L274.26,550.09 L276.79,550.28 L279.33,550.46 L281.86,550.62 L284.4,550.76 L286.93,550.9 L289.47,551.02 L292,551.14 L294.53,551.25 L297.07,551.35 L299.6,551.45 L302.14,551.54 L304.67,551.62 L307.21,551.71 L309.74,551.78 L312.28,551.86 L314.81,551.93 L317.35,552 L319.88,552.07 L322.42,552.13 L324.95,552.19 L327.48,552.25 L330.02,552.31" fill="none" stroke="#5068b6" stroke-width="1.5" clip-path="url(#c2)"/>
<path d="M28.4,460.57 L30.93,460.59 L33.47,460.64 L36,460.72 L38.54,460.83 L41.07,460.98 L43.61,461.15 L46.14,461.36 L48.68,461.6 L51.21,461.87 L53.75,462.18 L56.28,462.51 L58.82,462.88 L61.35,463.28 L63.88,463.72 L66.42,464.18 L68.95,464.68 L71.49,465.21 L74.02,465.77 L76.56,466.36 L79.09,466.99 L81.63,467.64 L84.16,468.33 L86.7,469.06 L89.23,469.81 L91.77,470.59 L94.3,471.41 L96.83,472.26 L99.37,473.14 L101.9,474.06 L104.44,475 L106.97,475.98 L109.51,476.99 L112.04,478.03 L114.58,479.11 L117.11,480.21 L119.65,481.35 L122.18,482.52 L124.72,483.72 L127.25,484.95 L129.78,486.21 L132.32,487.51 L134.85,488.83 L137.39,490.19 L139.92,491.58 L142.46,492.99 L144.99,494.44 L147.53,495.91 L150.06,497.41 L152.6,498.94 L155.13,500.49 L157.67,502.07 L160.2,503.67 L162.73,505.29 L165.27,506.94 L167.8,508.6 L170.34,510.27 L172.87,511.96 L175.41,513.65 L177.94,515.35 L180.48,517.06 L183.01,518.76 L185.55,520.46 L188.08,522.15 L190.62,523.83 L193.15,525.48 L195.68,527.12 L198.22,528.73 L200.75,530.31 L203.29,531.86 L205.82,533.36 L208.36,534.82 L210.89,536.23 L213.43,537.59 L215.96,538.9 L218.5,540.15 L221.03,541.34 L223.57,542.47 L226.1,543.53 L228.63,544.53 L231.17,545.47 L233.7,546.34 L236.24,547.15 L238.77,547.89 L241.31,548.58 L243.84,549.2 L246.38,549.77 L248.91,550.28 L251.45,550.75 L253.98,551.16 L256.52,551.53 L259.05,551.85 L261.58,552.14 L264.12,552.39 L266.65,552.61 L269.19,552.8 L271.72,552.97 L274.26,553.11 L276.79,553.23 L279.33,553.33 L281.86,553.41 L284.4,553.49 L286.93,553.55 L289.47,553.6 L292,553.64 L294.53,553.67 L297.07,553.7 L299.6,553.72 L302.14,553.74 L304.67,553.75 L307.21,553.76 L309.74,553.77 L312.28,553.78 L314.81,553.78 L317.35,553.79 L319.88,553.79 L322.42,553.79 L324.95,553.79 L327.48,553.8 L330.02,553.8" fill="none" stroke="#e8232c" stroke-width="1.5" clip-path="url(#c2)"/>
<polyline points="28.4,469.4 45.95,470 63.5,471.4 81.05,474.4 98.6,479.4 116.15,485.6 133.7,492.4 151.25,501 168.8,509 186.35,518.4 203.9,526.6 221.45,535 239,539.6 256.55,544 274.1,546.6 291.65,548 309.2,549.4 326.75,550.6" fill="none" stroke="#231f20" stroke-width="1.2"/>
<circle cx="28.4" cy="469.4" r="2.4" fill="#fff" stroke="#231f20" stroke-width="1.2"/>
<circle cx="45.95" cy="470" r="2.4" fill="#fff" stroke="#231f20" stroke-width="1.2"/>
<circle cx="63.5" cy="471.4" r="2.4" fill="#fff" stroke="#231f20" stroke-width="1.2"/>
<circle cx="81.05" cy="474.4" r="2.4" fill="#fff" stroke="#231f20" stroke-width="1.2"/>
<circle cx="98.6" cy="479.4" r="2.4" fill="#fff" stroke="#231f20" stroke-width="1.2"/>
<circle cx="116.15" cy="485.6" r="2.4" fill="#fff" stroke="#231f20" stroke-width="1.2"/>
<circle cx="133.7" cy="492.4" r="2.4" fill="#fff" stroke="#231f20" stroke-width="1.2"/>
<circle cx="151.25" cy="501" r="2.4" fill="#fff" stroke="#231f20" stroke-width="1.2"/>
<circle cx="168.8" cy="509" r="2.4" fill="#fff" stroke="#231f20" stroke-width="1.2"/>
<circle cx="186.35" cy="518.4" r="2.4" fill="#fff" stroke="#231f20" stroke-width="1.2"/>
<circle cx="203.9" cy="526.6" r="2.4" fill="#fff" stroke="#231f20" stroke-width="1.2"/>
<circle cx="221.45" cy="535" r="2.4" fill="#fff" stroke="#231f20" stroke-width="1.2"/>
<circle cx="239" cy="539.6" r="2.4" fill="#fff" stroke="#231f20" stroke-width="1.2"/>
<circle cx="256.55" cy="544" r="2.4" fill="#fff" stroke="#231f20" stroke-width="1.2"/>
<circle cx="274.1" cy="546.6" r="2.4" fill="#fff" stroke="#231f20" stroke-width="1.2"/>
<circle cx="291.65" cy="548" r="2.4" fill="#fff" stroke="#231f20" stroke-width="1.2"/>
<circle cx="309.2" cy="549.4" r="2.4" fill="#fff" stroke="#231f20" stroke-width="1.2"/>
<circle cx="326.75" cy="550.6" r="2.4" fill="#fff" stroke="#231f20" stroke-width="1.2"/>
<line x1="126" y1="447" x2="149" y2="447" stroke="#231f20" stroke-width="1.2" />
<circle cx="138" cy="447" r="2.1" fill="#fff" stroke="#231f20" stroke-width="1.1"/>
<line x1="126" y1="458" x2="149" y2="458" stroke="#e8232c" stroke-width="1.5" />
<line x1="126" y1="469.6" x2="149" y2="469.6" stroke="#5068b6" stroke-width="1.6" />
<text transform="translate(152.6,450.9) scale(1.09,1)" font-size="10.8" >exp. (333 K, 1.48 gcm<tspan dy="-5.2" font-size="7">-3</tspan><tspan dy="5.2">, Steel cell)</tspan></text>
<text transform="translate(152.6,462.7) scale(1.06,1)" font-size="10.8" text-anchor="start" >FEG</text>
<text transform="translate(152.6,473.9) scale(1.06,1)" font-size="10.8" text-anchor="start" >IEG</text>
<text transform="translate(191.8,469.6) scale(1.06,1)" font-size="11.4" >r<tspan dy="2.6" font-size="8">s</tspan><tspan dy="-2.6">=5.37</tspan></text>
<text transform="translate(10.8,511.3) rotate(-90) scale(1.06,1)" font-size="10.8"><tspan font-style="italic">J</tspan>(<tspan font-style="italic">p</tspan>)</text>
<text transform="translate(25.6,557.6) scale(1.06,1)" font-size="10.8" text-anchor="end" >0</text>
<text transform="translate(25.6,512) scale(1.06,1)" font-size="10.8" text-anchor="end" >1</text>
<text transform="translate(25.6,466.4) scale(1.06,1)" font-size="10.8" text-anchor="end" >2</text>
<text transform="translate(332.4,189.8) scale(1.04,1)" font-size="13.5" text-anchor="start" >(a)</text>
<text transform="translate(28.4,566) scale(1.06,1)" font-size="10.8" text-anchor="middle" >0</text>
<text transform="translate(83.2,566) scale(1.06,1)" font-size="10.8" text-anchor="middle" >0.1</text>
<text transform="translate(138,566) scale(1.06,1)" font-size="10.8" text-anchor="middle" >0.2</text>
<text transform="translate(192.8,566) scale(1.06,1)" font-size="10.8" text-anchor="middle" >0.3</text>
<text transform="translate(247.6,566) scale(1.06,1)" font-size="10.8" text-anchor="middle" >0.4</text>
<text transform="translate(302.4,566) scale(1.06,1)" font-size="10.8" text-anchor="middle" >0.5</text>
<text transform="translate(136,582) scale(1.06,1)" font-size="10.8" ><tspan font-style="italic">p</tspan> (atomic units)</text>
</svg>
</body></html>
